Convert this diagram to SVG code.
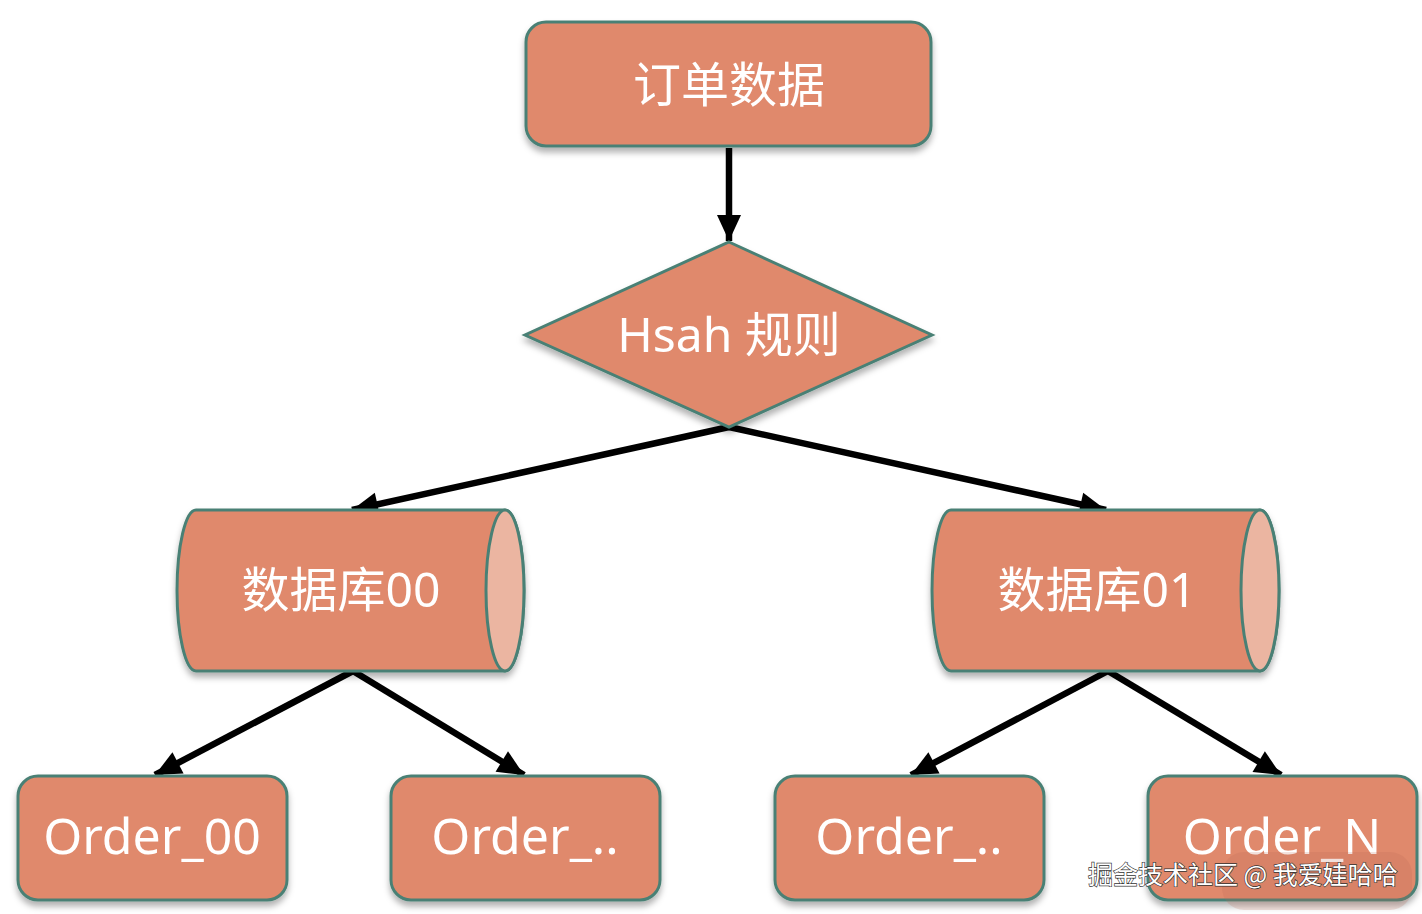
<svg xmlns="http://www.w3.org/2000/svg" width="1422" height="914" viewBox="0 0 1422 914">
<defs>
<filter id="sh" x="-10%" y="-10%" width="120%" height="130%">
<feDropShadow dx="0" dy="5" stdDeviation="3" flood-color="#000" flood-opacity="0.3"/>
</filter>
<marker id="ah" markerUnits="userSpaceOnUse" markerWidth="30" markerHeight="30" viewBox="0 0 30 30" refX="28" refY="15" orient="auto">
<path d="M2,3 L28,15 L2,27 Z" fill="#000"/>
</marker>
<style>
.box{fill:#E0896C;stroke:#4A8074;stroke-width:3}
.cap{fill:#EBB5A1;stroke:#4A8074;stroke-width:3}
.t{fill:#fff;font-family:"Noto Sans","Noto Sans CJK SC",sans-serif;font-size:48px;text-anchor:middle;dominant-baseline:central}
.o{font-size:50px}
.c{fill:none;stroke:#000;stroke-width:6.5;marker-end:url(#ah)}
.wm{fill:#fff;stroke:#333;stroke-width:1.3;paint-order:stroke;font-family:"Noto Sans CJK SC","Noto Sans",sans-serif;font-size:25px}
</style>
</defs>
<rect width="1422" height="914" fill="#fff"/>
<g id="connectors">
<line class="c" x1="729" y1="148" x2="729" y2="241"/>
<line class="c" x1="729" y1="427" x2="352" y2="510"/>
<line class="c" x1="729" y1="427" x2="1106" y2="510"/>
<line class="c" x1="353" y1="671" x2="155" y2="775"/>
<line class="c" x1="353" y1="671" x2="524" y2="775"/>
<line class="c" x1="1108" y1="671" x2="911" y2="775"/>
<line class="c" x1="1108" y1="671" x2="1281" y2="775"/>
</g>
<g id="n_order_data" filter="url(#sh)">
<rect class="box" x="526" y="22" width="405" height="124" rx="20"/>
<text class="t" x="729" y="83">订单数据</text>
</g>
<g id="n_hash" filter="url(#sh)">
<polygon class="box" points="729,242 932,335 729,427 525,335"/>
<text class="t" x="729" y="333" font-size="46">Hsah 规则</text>
</g>
<g id="n_db00" filter="url(#sh)">
<path class="box" d="M196,510 L505,510 A19,80.5 0 0 1 505,671 L196,671 A19,80.5 0 0 1 196,510 Z"/>
<ellipse class="cap" cx="505" cy="590.5" rx="19" ry="80.5"/>
<text class="t" x="341" y="588">数据库00</text>
</g>
<g id="n_db01" filter="url(#sh)">
<path class="box" d="M951,510 L1260,510 A19,80.5 0 0 1 1260,671 L951,671 A19,80.5 0 0 1 951,510 Z"/>
<ellipse class="cap" cx="1260" cy="590.5" rx="19" ry="80.5"/>
<text class="t" x="1097" y="588">数据库01</text>
</g>
<g id="n_order00" filter="url(#sh)">
<rect class="box" x="18" y="776" width="269" height="124" rx="20"/>
<text class="t o" x="152" y="835">Order_00</text>
</g>
<g id="n_order_a" filter="url(#sh)">
<rect class="box" x="391" y="776" width="269" height="124" rx="20"/>
<text class="t o" x="525" y="835">Order_..</text>
</g>
<g id="n_order_b" filter="url(#sh)">
<rect class="box" x="775" y="776" width="269" height="124" rx="20"/>
<text class="t o" x="909" y="835">Order_..</text>
</g>
<g id="n_orderN" filter="url(#sh)">
<rect class="box" x="1148" y="776" width="269" height="124" rx="20"/>
<text class="t o" x="1282" y="835">Order_N</text>
</g>
<rect x="1222" y="852" width="190" height="58" rx="22" fill="#B86A55" opacity="0.2"/>
<text class="wm" x="1088" y="884">掘金技术社区 @ 我爱娃哈哈</text>
</svg>
